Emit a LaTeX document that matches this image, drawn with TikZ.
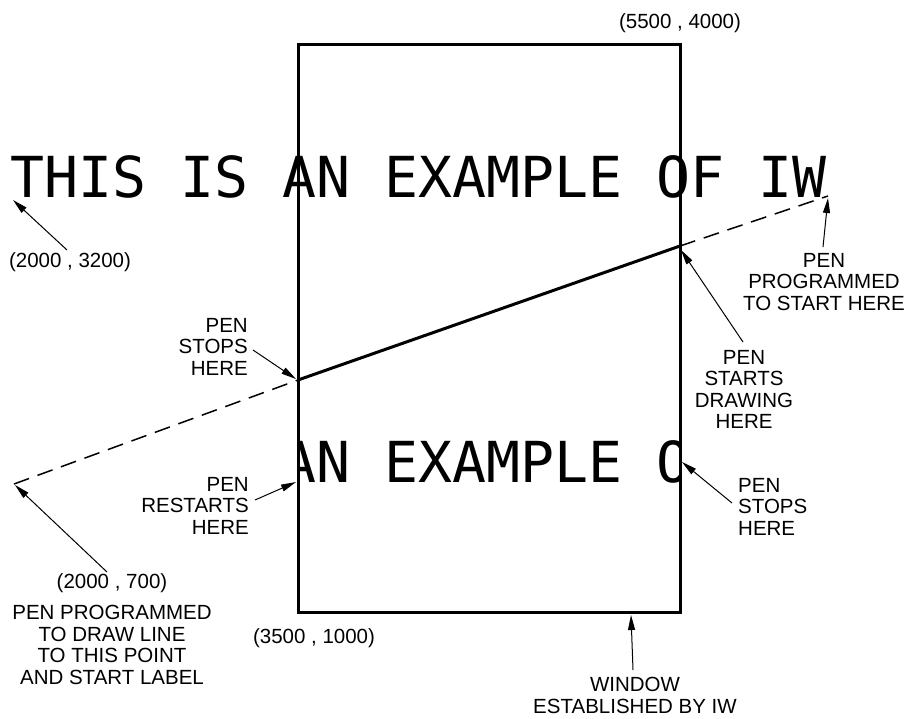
\documentclass[tikz,border=0pt]{standalone}
\usepackage{fontspec}
\setmainfont{Liberation Sans}
\newfontfamily\plotfont{DejaVu Sans Mono}
\usetikzlibrary{arrows.meta}
\begin{document}
\begin{tikzpicture}[x=1pt,y=-1pt,
  lbl/.style={font=\fontsize{20.5}{21.5}\selectfont, inner sep=0pt, align=center},
  lblr/.style={lbl, align=right},
  lbll/.style={lbl, align=left},
  ptr/.style={line width=1pt, -{Triangle[length=15pt,width=7pt]}},
  win/.style={line width=3pt, line join=miter},
  pen/.style={line width=3pt},
  penup/.style={line width=1.5pt, dash pattern=on 16pt off 9pt},
  big/.style={font=\plotfont\fontsize{56.5}{60}\selectfont, inner sep=0pt, anchor=base west}]
\useasboundingbox (0,0) rectangle (912,718);

% window
\coordinate (wNW) at (298,44);
\coordinate (wSE) at (680,612);
\draw[win] (wNW) rectangle (wSE);

% label text (full) and the part of it drawn inside the window
\node[big] (t1) at (10,197) {THIS IS AN EXAMPLE OF IW};
\begin{scope}
  \clip (wNW) rectangle (wSE);
  \node[big] (t2) at (282,482) {AN EXAMPLE O};
\end{scope}

% pen path
\coordinate (pStart) at (14,484);
\coordinate (pStop) at (298,380);
\coordinate (pDraw) at (680,246);
\coordinate (pProg) at (828,196);
\draw[penup] (pStart) -- (pStop);
\draw[pen] (pStop) -- (pDraw);
\draw[penup] (pDraw) -- (pProg);

% labels
\node[lbl, anchor=north] (c4000) at (680,13) {(5500 , 4000)};
\node[lbl, anchor=north] (c3200) at (70,252) {(2000 , 3200)};
\node[lbl, anchor=north] (lProg) at (824,253) {PEN\\PROGRAMMED\\TO START HERE};
\node[lbl, anchor=north] (lStarts) at (744,350) {PEN\\STARTS\\DRAWING\\HERE};
\node[lblr, anchor=north east] (lStopsL) at (248,318) {PEN\\STOPS\\HERE};
\node[lblr, anchor=north east] (lRestarts) at (249,477) {PEN\\RESTARTS\\HERE};
\node[lbll, anchor=north west] (lStopsR) at (738,478) {PEN\\STOPS\\HERE};
\node[lbl, anchor=north] (c700) at (112,573) {(2000 , 700)};
\node[lbl, anchor=north] (lDrawTo) at (112,605) {PEN PROGRAMMED\\TO DRAW LINE\\TO THIS POINT\\AND START LABEL};
\node[lbl, anchor=north] (c1000) at (314,628) {(3500 , 1000)};
\node[lbl, anchor=north] (lWin) at (635,677) {WINDOW\\ESTABLISHED BY IW};

% pointer arrows
\coordinate (a1t) at (67,250);   \coordinate (a1h) at (13,200);
\coordinate (a2t) at (823,247);  \coordinate (a2h) at (828,198);
\coordinate (a3t) at (743,342);  \coordinate (a3h) at (681,250);
\coordinate (a4t) at (253,350);  \coordinate (a4h) at (296,379);
\coordinate (a5t) at (255,500);  \coordinate (a5h) at (296,482);
\coordinate (a6t) at (732,503);  \coordinate (a6h) at (682,462);
\coordinate (a7t) at (107,572);  \coordinate (a7h) at (15,485);
\coordinate (a8t) at (633,670);  \coordinate (a8h) at (631,615);
\draw[ptr] (a1t) -- (a1h);
\draw[ptr] (a2t) -- (a2h);
\draw[ptr] (a3t) -- (a3h);
\draw[ptr] (a4t) -- (a4h);
\draw[ptr] (a5t) -- (a5h);
\draw[ptr] (a6t) -- (a6h);
\draw[ptr] (a7t) -- (a7h);
\draw[ptr] (a8t) -- (a8h);
\end{tikzpicture}
\end{document}
